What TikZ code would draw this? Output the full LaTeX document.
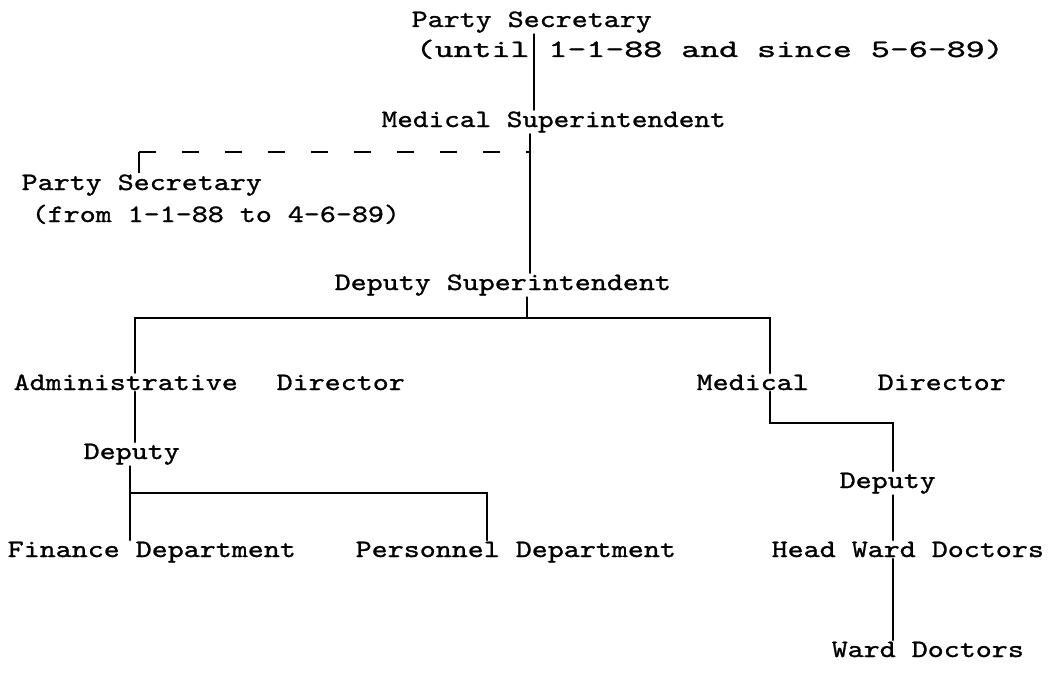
\documentclass[tikz,border=0pt]{standalone}
\usepackage{fontspec}
\usepackage{graphicx}
\setmainfont{lmmono10-regular.otf}[FakeStretch=1.22,FakeBold=1.1]
\begin{document}
\begin{tikzpicture}[x=1pt,y=-1pt,
  lbl/.style={font=\fontsize{25}{30}\selectfont, inner sep=1.5pt, anchor=base west},
  ln/.style={line width=2.5pt, line cap=round},
  dashln/.style={line width=2.2pt, dash pattern=on 17pt off 26pt},
  tick/.style={line width=1.3pt}]
\useasboundingbox (0,0) rectangle (1057,693);
\node[lbl] (ps1) at (410,27) {Party Secretary};
\node[lbl] (ps1d) at (414,57) {\resizebox{588pt}{\height}{(until 1-1-88 and since 5-6-89)}};
\node[lbl] (ms) at (380,127) {\resizebox{344pt}{\height}{Medical Superintendent}};
\node[lbl] (ps2) at (20,190) {Party Secretary};
\node[lbl] (ps2d) at (30,222) {(from 1-1-88 to 4-6-89)};
\node[lbl] (ds) at (333,290) {Deputy Superintendent};
\node[lbl] (ad) at (12,390) {Administrative};
\node[lbl] (adD) at (275,390) {Director};
\node[lbl] (md) at (695,390) {Medical};
\node[lbl] (mdD) at (876,390) {Director};
\node[lbl] (depL) at (82,459) {Deputy};
\node[lbl] (depR) at (838,488) {Deputy};
\node[lbl] (fin) at (6,557) {Finance Department};
\node[lbl] (per) at (354,557) {Personnel Department};
\node[lbl] (hwd) at (770,557) {Head Ward Doctors};
\node[lbl] (wd) at (830,657) {Ward Doctors};
\coordinate (top) at (534,0);
\coordinate (spine) at (530,0);
\coordinate (dj) at (530,152);
\coordinate (dl) at (139,152);
\coordinate (b1L) at (135,318);
\coordinate (b1R) at (770,318);
\coordinate (b1M) at (527,318);
\coordinate (b2L) at (130,493);
\coordinate (b2R) at (487,493);
\coordinate (mj) at (770,423);
\coordinate (mk) at (893,423);
\coordinate (rs) at (893,0);
\draw[ln] (ps1.south -| top) -- (ms.north -| top);
\draw[ln] (ms.south -| spine) -- (ds.north -| spine);
\draw[dashln] (dl) -- (dj);
\draw[tick] (dl) -- (dl |- ps2.north);
\draw[ln] (ds.south -| b1M) -- (b1M);
\draw[ln] (ad.north -| b1L) -- (b1L) -- (b1R) -- (md.north -| b1R);
\draw[ln] (ad.south -| b1L) -- (depL.north -| b1L);
\draw[ln] (depL.south -| b2L) -- (b2L) -- (b2R) -- (per.north -| b2R);
\draw[ln] (b2L) -- (fin.north -| b2L);
\draw[ln] (md.south -| mj) -- (mj) -- (mk) -- (depR.north -| mk);
\draw[ln] (depR.south -| rs) -- (hwd.north -| rs);
\draw[ln] (hwd.south -| rs) -- (wd.north -| rs);
\end{tikzpicture}
\end{document}
